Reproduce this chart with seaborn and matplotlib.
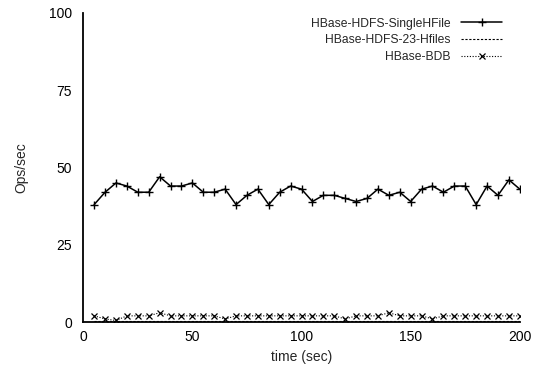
import matplotlib
matplotlib.use('Agg')
import matplotlib.pyplot as plt
import numpy as np
import pandas as pd
import seaborn as sns

time_sec = list(range(5, 205, 5))
single_hfile = [38, 42, 45, 44, 42, 42, 47, 44, 44, 45,
                42, 42, 43, 38, 41, 43, 38, 42, 44, 43,
                39, 41, 41, 40, 39, 40, 43, 41, 42, 39,
                43, 44, 42, 44, 44, 38, 44, 41, 46, 43]
hfiles_23 = [0.4, 0.4, 0.4, 0.4, 0.4, 0.4, 0.4, 0.4, 0.4, 0.4,
             0.4, 0.4, 0.4, 0.4, 0.4, 0.4, 0.4, 0.4, 0.4, 0.4,
             0.4, 0.4, 0.4, 0.4, 0.4, 0.4, 0.4, 0.4, 0.4, 0.4,
             0.4, 0.4, 0.4, 0.4, 0.4, 0.4, 0.4, 0.4, 0.4, 0.4]
bdb = [2, 1, 0.5, 2, 2, 2, 3, 2, 2, 2,
       2, 2, 1, 2, 2, 2, 2, 2, 2, 2,
       2, 2, 2, 1, 2, 2, 2, 3, 2, 2,
       2, 1, 2, 2, 2, 2, 2, 2, 2, 2]

sns.set_style('white')
plt.rcParams['font.family'] = ['Liberation Sans', 'DejaVu Sans']

fig = plt.figure(figsize=(5.37, 3.71), dpi=100)
ax = fig.add_axes([0.155, 0.132, 0.813, 0.833])

df = pd.DataFrame({'t': time_sec, 'single': single_hfile, 'h23': hfiles_23, 'bdb': bdb})
sns.lineplot(data=df, x='t', y='single', ax=ax, color='black', lw=1.1,
             marker='+', markersize=6, markeredgewidth=1.0, markeredgecolor='black',
             label='HBase-HDFS-SingleHFile')
sns.lineplot(data=df, x='t', y='h23', ax=ax, color='black', lw=0.8,
             linestyle=(0, (2, 1.5)), label='HBase-HDFS-23-Hfiles')
sns.lineplot(data=df, x='t', y='bdb', ax=ax, color='black', lw=0.8,
             linestyle=(0, (1, 1.5)), marker='x', markersize=4.5, markeredgewidth=0.9,
             markeredgecolor='black', label='HBase-BDB')

ax.set_xlim(0, 200)
ax.set_ylim(0, 100)
ax.set_xticks([0, 50, 100, 150, 200])
ax.set_yticks([0, 25, 50, 75, 100])
ax.set_xlabel('time (sec)', fontsize=10)
ax.set_ylabel('Ops/sec', fontsize=10, labelpad=15)
ax.tick_params(axis='both', direction='in', length=4, width=1, labelsize=10, colors='black')
ax.tick_params(axis='x', pad=6)
ax.tick_params(axis='y', pad=8)
for side in ['top', 'right']:
    ax.spines[side].set_visible(False)
for side in ['left', 'bottom']:
    ax.spines[side].set_color('black')
    ax.spines[side].set_linewidth(1.3)

ax.legend(loc='upper right', bbox_to_anchor=(0.985, 1.02), frameon=False,
          markerfirst=False, fontsize=8.7, handlelength=3.4, labelspacing=0.38,
          handletextpad=0.9)

fig.savefig('out.png', dpi=100)
